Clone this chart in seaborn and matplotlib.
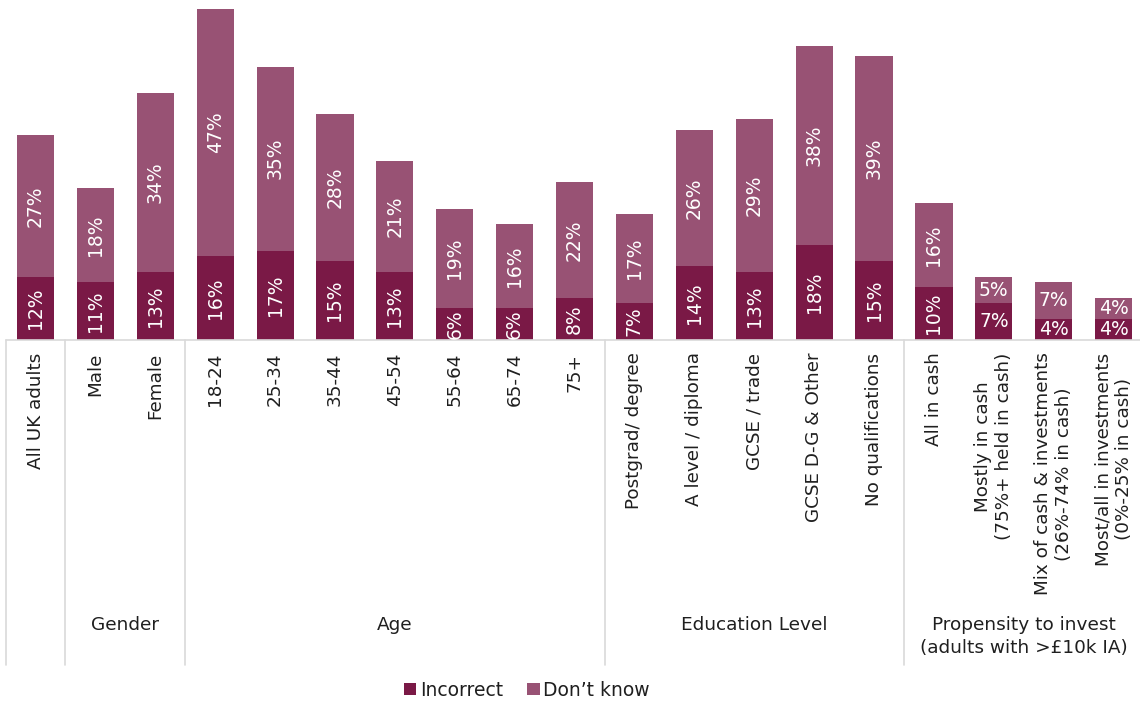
import matplotlib
matplotlib.use("Agg")
import matplotlib.pyplot as plt
import matplotlib.transforms as mtransforms
from matplotlib.patches import Patch
import seaborn as sns
import pandas as pd

categories = [
    "All UK adults", "Male", "Female",
    "18-24", "25-34", "35-44", "45-54", "55-64", "65-74", "75+",
    "Postgrad/ degree", "A level / diploma", "GCSE / trade", "GCSE D-G & Other", "No qualifications",
    "All in cash", "Mostly in cash\n(75%+ held in cash)",
    "Mix of cash & investments\n(26%-74% in cash)",
    "Most/all in investments\n(0%-25% in cash)",
]
incorrect = [12, 11, 13, 16, 17, 15, 13, 6, 6, 8, 7, 14, 13, 18, 15, 10, 7, 4, 4]
dont_know = [27, 18, 34, 47, 35, 28, 21, 19, 16, 22, 17, 26, 29, 38, 39, 16, 5, 7, 4]
group_names = ["Gender", "Age", "Education Level",
               "Propensity to invest\n(adults with >£10k IA)"]
group_spans = [(1, 2), (3, 9), (10, 14), (15, 18)]
series_names = ["Incorrect", "Don\u2019t know"]

DARK = "#7a1946"
LIGHT = "#985274"
GRID = "#d9d9d9"
TXT = "#1f1f1f"

sns.set_style("white")
plt.rcParams["font.family"] = ["DejaVu Sans"]

df = pd.DataFrame({"cat": categories, "inc": incorrect, "dk": dont_know})
df["total"] = df["inc"] + df["dk"]

fig = plt.figure(figsize=(11.4, 7.02), dpi=100)
base_frac = (702 - 340) / 702
ax = fig.add_axes([0, base_frac, 1, 340 / 702])

sns.barplot(data=df, x="cat", y="total", color=LIGHT, width=0.62,
            linewidth=0, saturation=1, ax=ax, order=categories)
sns.barplot(data=df, x="cat", y="inc", color=DARK, width=0.62,
            linewidth=0, saturation=1, ax=ax, order=categories)

ax.set_xlim(-0.593, 18.44)
ax.set_ylim(0, 340 / 5.254)
for s in ax.spines.values():
    s.set_visible(False)
ax.set_yticks([])
ax.set_xlabel("")
ax.set_ylabel("")
ax.set_xticks(range(len(categories)))
ax.set_xticklabels(categories, rotation=90, va="top", ha="center",
                   multialignment="center", fontsize=13.2, color=TXT)
ax.tick_params(axis="x", length=0, pad=9)

# bar value labels
for i, (a, b) in enumerate(zip(incorrect, dont_know)):
    rot = 0 if a + b < 15 else 90
    ax.text(i, a / 2, f"{a}%", ha="center", va="center", rotation=rot,
            color="white", fontsize=13.5)
    ax.text(i, a + b / 2, f"{b}%", ha="center", va="center", rotation=rot,
            color="white", fontsize=13.5)

# baseline and group separators
trans = mtransforms.blended_transform_factory(ax.transData, ax.transAxes)
ax.plot([-0.5, 18.6], [0, 0], transform=trans, color=GRID, lw=1.2, clip_on=False)
sep_bottom = (340 - 665) / 340
for xs in [-0.5, 0.5, 2.5, 9.5, 14.5, 18.5]:
    ax.plot([xs, xs], [0, sep_bottom], transform=trans, color=GRID, lw=1.2,
            clip_on=False)

label_y = (340 - 616) / 340
for name, (a, b) in zip(group_names, group_spans):
    ax.text((a + b) / 2, label_y, name, transform=trans, ha="center", va="top",
            fontsize=13.3, color=TXT, multialignment="center", linespacing=1.35)

handles = [Patch(facecolor=DARK, edgecolor="none"),
           Patch(facecolor=LIGHT, edgecolor="none")]
fig.legend(handles, series_names, loc="center",
           bbox_to_anchor=(527 / 1140, 1 - 690 / 702), ncol=2, frameon=False,
           fontsize=13.5, handlelength=0.65, handleheight=0.65, handletextpad=0.2,
           columnspacing=1.3, labelcolor=TXT)

fig.savefig("out.png", dpi=100)
